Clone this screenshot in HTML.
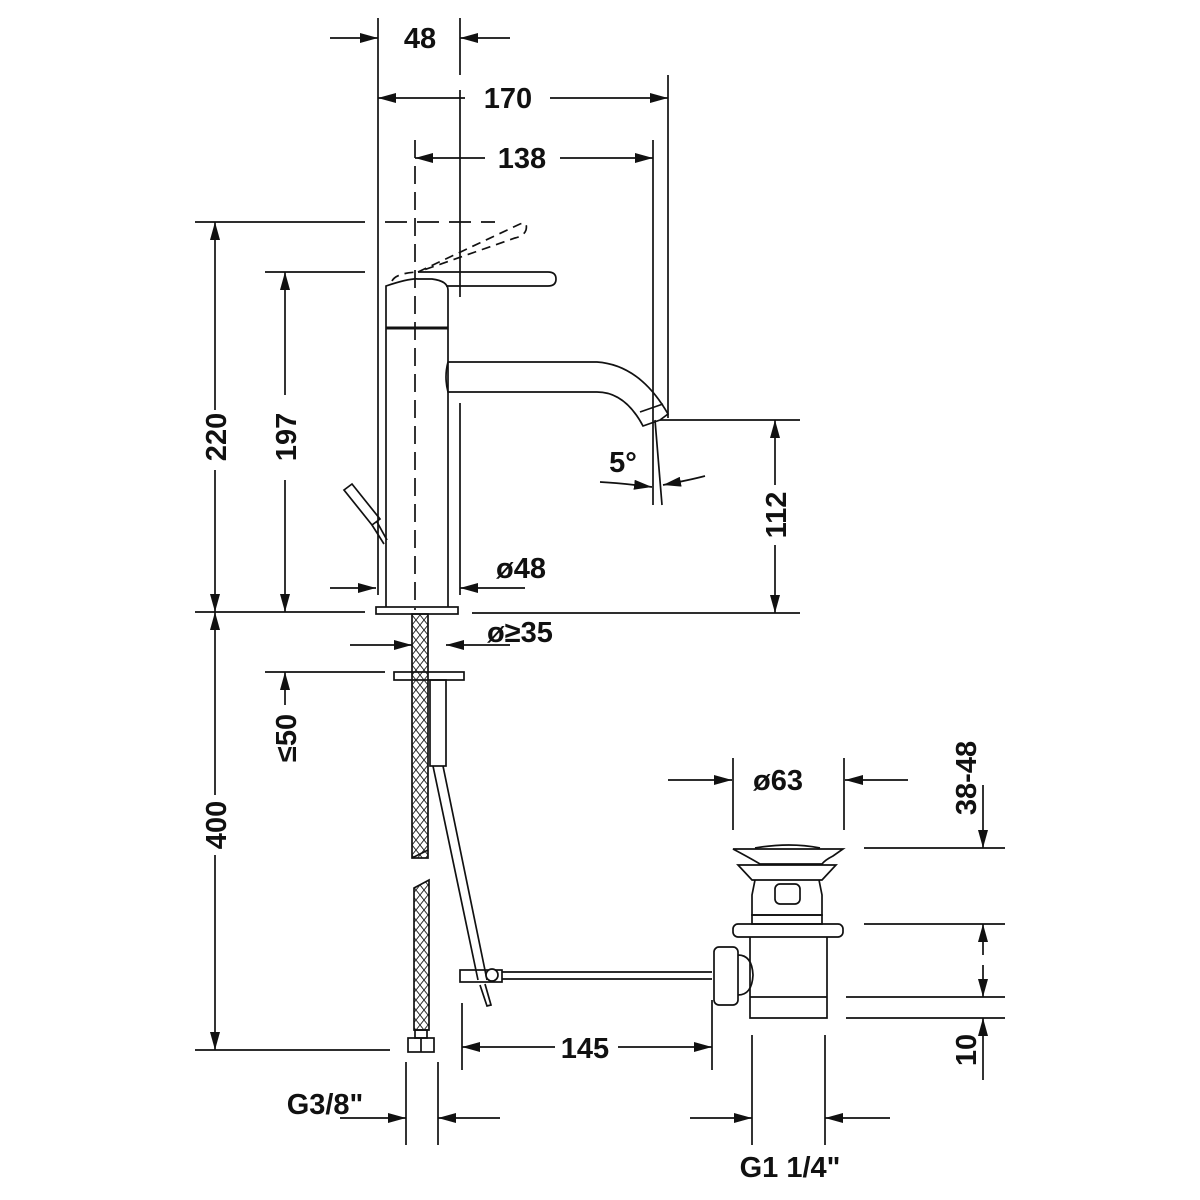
<!DOCTYPE html>
<html><head><meta charset="utf-8"><style>
html,body{margin:0;padding:0;background:#fff}
svg{display:block}
text{font-family:"Liberation Sans",sans-serif;font-weight:bold;font-size:29px;fill:#111}
</style></head><body>
<svg width="1200" height="1200" viewBox="0 0 1200 1200" xmlns="http://www.w3.org/2000/svg">
<defs>
<marker id="a" markerUnits="userSpaceOnUse" markerWidth="20" markerHeight="10" refX="18" refY="5" orient="auto">
<path d="M0,0 L18,5 L0,10 Z" fill="#111"/></marker>
<pattern id="h" width="8" height="10" patternUnits="userSpaceOnUse">
<path d="M0,0 L8,10 M8,0 L0,10" stroke="#222" stroke-width="0.9" fill="none"/></pattern>
</defs>
<g stroke="#111" stroke-width="1.7" fill="none">
<line x1="330" y1="38" x2="378" y2="38" marker-end="url(#a)"/>
<line x1="510" y1="38" x2="460" y2="38" marker-end="url(#a)"/>
<line x1="465" y1="98" x2="378" y2="98" marker-end="url(#a)"/>
<line x1="550" y1="98" x2="668" y2="98" marker-end="url(#a)"/>
<line x1="485" y1="158" x2="415" y2="158" marker-end="url(#a)"/>
<line x1="560" y1="158" x2="653" y2="158" marker-end="url(#a)"/>
<line x1="378" y1="18" x2="378" y2="595"/>
<line x1="460" y1="18" x2="460" y2="75"/>
<line x1="460" y1="90" x2="460" y2="297"/>
<line x1="460" y1="403" x2="460" y2="595"/>
<line x1="668" y1="75" x2="668" y2="418"/>
<line x1="653" y1="140" x2="653" y2="505"/>
<line x1="415" y1="140" x2="415" y2="610" stroke-dasharray="18,8"/>
<line x1="195" y1="222" x2="365" y2="222"/>
<line x1="385" y1="222" x2="495" y2="222" stroke-dasharray="22,10"/>
<line x1="265" y1="272" x2="365" y2="272"/>
<line x1="195" y1="612" x2="365" y2="612"/>
<line x1="472" y1="613" x2="800" y2="613"/>
<line x1="660" y1="420" x2="800" y2="420"/>
<line x1="265" y1="672" x2="385" y2="672"/>
<line x1="195" y1="1050" x2="390" y2="1050"/>
<line x1="215" y1="410" x2="215" y2="222" marker-end="url(#a)"/>
<line x1="215" y1="470" x2="215" y2="612" marker-end="url(#a)"/>
<line x1="285" y1="395" x2="285" y2="272" marker-end="url(#a)"/>
<line x1="285" y1="480" x2="285" y2="612" marker-end="url(#a)"/>
<line x1="775" y1="485" x2="775" y2="420" marker-end="url(#a)"/>
<line x1="775" y1="545" x2="775" y2="613" marker-end="url(#a)"/>
<line x1="215" y1="795" x2="215" y2="612" marker-end="url(#a)"/>
<line x1="215" y1="855" x2="215" y2="1050" marker-end="url(#a)"/>
<line x1="285" y1="705" x2="285" y2="672" marker-end="url(#a)"/>
<line x1="330" y1="588" x2="376" y2="588" marker-end="url(#a)"/>
<line x1="525" y1="588" x2="460" y2="588" marker-end="url(#a)"/>
<line x1="350" y1="645" x2="412" y2="645" marker-end="url(#a)"/>
<line x1="510" y1="645" x2="446" y2="645" marker-end="url(#a)"/>
<line x1="655" y1="420" x2="662" y2="505"/>
<path d="M600,482 Q620,483 652,487" marker-end="url(#a)"/>
<path d="M705,476 Q690,480 663,485" marker-end="url(#a)"/>
<path d="M386,607 L386,286 Q410,278 418,279 L432,279 Q448,281 448,290 L448,607"/>
<line x1="386" y1="328" x2="448" y2="328" stroke-width="3"/>
<rect x="376" y="607" width="82" height="7"/>
<path d="M418,272 L548,272 Q556,272 556,279 Q556,286 548,286 L446,286"/>
<path d="M392,281 Q396,273 418,272 M418,272 L520,224 Q528,221 526,230 Q524,236 515,238 L418,272" stroke-dasharray="9,6"/>
<path d="M448,362 L597,362 Q640,365 668,414 L660,420 L643,426 Q625,392 597,392 L448,392 Q444,377 448,362"/>
<line x1="640" y1="412" x2="663" y2="404"/>
<path d="M344,490 L352,484 L380,519 L372,525 Z"/>
<path d="M377,522 L387,540 M372,525 L384,544"/>
<rect x="412" y="614" width="16" height="244" fill="url(#h)"/>
<path d="M412,858 L428,850"/>
<path d="M414,888 L429,880 L429,1030 L414,1030 Z" fill="url(#h)"/>
<rect x="415" y="1030" width="12" height="8"/>
<rect x="408" y="1038" width="26" height="14"/>
<line x1="421" y1="1038" x2="421" y2="1052"/>
<rect x="394" y="672" width="70" height="8"/>
<rect x="430" y="680" width="16" height="86"/>
<path d="M433,766 L478,980 M443,766 L487,980"/>
<path d="M480,985 L487,1006 L491,1005 L485,984"/>
<rect x="460" y="970" width="42" height="12"/>
<circle cx="492" cy="975" r="6" fill="#fff"/>
<line x1="502" y1="972" x2="712" y2="972"/>
<line x1="502" y1="979" x2="712" y2="979"/>
<path d="M733,849 L843,849 L833,856 Q825,860 822,864 L760,864 Q750,858 733,849 Z"/>
<path d="M755,848 Q790,842 820,848"/>
<path d="M738,865 L836,865 L822,880 L752,880 Z"/>
<path d="M755,880 L752,895 L752,915 L822,915 L822,895 L819,880"/>
<rect x="775" y="884" width="25" height="20" rx="5"/>
<rect x="752" y="915" width="70" height="9"/>
<rect x="733" y="924" width="110" height="13" rx="5"/>
<path d="M750,937 L750,1018 L827,1018 L827,937"/>
<line x1="750" y1="997" x2="827" y2="997"/>
<path d="M738,955 Q752,955 753,975 Q752,995 738,995"/>
<rect x="714" y="947" width="24" height="58" rx="5"/>
<line x1="668" y1="780" x2="732" y2="780" marker-end="url(#a)"/>
<line x1="908" y1="780" x2="845" y2="780" marker-end="url(#a)"/>
<line x1="733" y1="758" x2="733" y2="830"/>
<line x1="844" y1="758" x2="844" y2="830"/>
<line x1="864" y1="848" x2="1005" y2="848"/>
<line x1="864" y1="924" x2="1005" y2="924"/>
<line x1="846" y1="997" x2="1005" y2="997"/>
<line x1="846" y1="1018" x2="1005" y2="1018"/>
<line x1="983" y1="785" x2="983" y2="848" marker-end="url(#a)"/>
<line x1="983" y1="955" x2="983" y2="924" marker-end="url(#a)"/>
<line x1="983" y1="965" x2="983" y2="997" marker-end="url(#a)"/>
<line x1="983" y1="1080" x2="983" y2="1018" marker-end="url(#a)"/>
<line x1="462" y1="1003" x2="462" y2="1070"/>
<line x1="712" y1="1000" x2="712" y2="1070"/>
<line x1="555" y1="1047" x2="462" y2="1047" marker-end="url(#a)"/>
<line x1="618" y1="1047" x2="712" y2="1047" marker-end="url(#a)"/>
<line x1="406" y1="1062" x2="406" y2="1145"/>
<line x1="438" y1="1062" x2="438" y2="1145"/>
<line x1="340" y1="1118" x2="406" y2="1118" marker-end="url(#a)"/>
<line x1="500" y1="1118" x2="438" y2="1118" marker-end="url(#a)"/>
<line x1="752" y1="1035" x2="752" y2="1145"/>
<line x1="825" y1="1035" x2="825" y2="1145"/>
<line x1="690" y1="1118" x2="752" y2="1118" marker-end="url(#a)"/>
<line x1="890" y1="1118" x2="825" y2="1118" marker-end="url(#a)"/>
</g>
<text x="420" y="48" text-anchor="middle">48</text>
<text x="508" y="108" text-anchor="middle">170</text>
<text x="522" y="168" text-anchor="middle">138</text>
<text x="623" y="472" text-anchor="middle">5°</text>
<text x="521" y="578" text-anchor="middle">ø48</text>
<text x="520" y="642" text-anchor="middle">ø≥35</text>
<text x="778" y="790" text-anchor="middle">ø63</text>
<text x="585" y="1058" text-anchor="middle">145</text>
<text x="325" y="1114" text-anchor="middle">G3/8"</text>
<text x="790" y="1177" text-anchor="middle">G1 1/4"</text>
<text transform="translate(226,437) rotate(-90)" text-anchor="middle">220</text>
<text transform="translate(296,437) rotate(-90)" text-anchor="middle">197</text>
<text transform="translate(786,515) rotate(-90)" text-anchor="middle">112</text>
<text transform="translate(226,825) rotate(-90)" text-anchor="middle">400</text>
<text transform="translate(296,738) rotate(-90)" text-anchor="middle">≤50</text>
<text transform="translate(976,778) rotate(-90)" text-anchor="middle">38-48</text>
<text transform="translate(976,1050) rotate(-90)" text-anchor="middle">10</text>
</svg>
</body></html>
